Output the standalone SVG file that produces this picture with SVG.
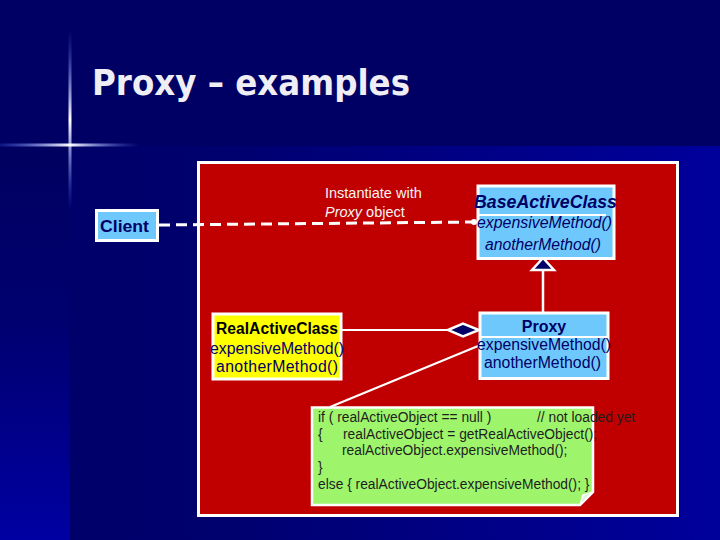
<svg xmlns="http://www.w3.org/2000/svg" width="720" height="540" viewBox="0 0 720 540">
<defs>
<linearGradient id="band" x1="0" y1="0" x2="1" y2="0">
<stop offset="0" stop-color="#000068"/>
<stop offset="0.3" stop-color="#00006e"/>
<stop offset="1" stop-color="#00009c"/>
</linearGradient>
<linearGradient id="leftcol" x1="0" y1="0" x2="0" y2="1">
<stop offset="0" stop-color="#000060"/>
<stop offset="0.45" stop-color="#000070"/>
<stop offset="1" stop-color="#0000a2"/>
</linearGradient>
<linearGradient id="vglint" x1="0" y1="0" x2="0" y2="1">
<stop offset="0" stop-color="#4a6cff" stop-opacity="0"/>
<stop offset="0.5" stop-color="#ffffff" stop-opacity="1"/>
<stop offset="1" stop-color="#4a6cff" stop-opacity="0"/>
</linearGradient>
<linearGradient id="hglint" x1="0" y1="0" x2="1" y2="0">
<stop offset="0" stop-color="#4a6cff" stop-opacity="0.2"/>
<stop offset="0.5" stop-color="#ffffff" stop-opacity="1"/>
<stop offset="1" stop-color="#4a6cff" stop-opacity="0"/>
</linearGradient>
<style>
.box{stroke:#ffffff;stroke-width:3}
.blue{fill:#6ec8fc}
.t{font-family:"Liberation Sans",Arial,sans-serif}
.navy{fill:#000066}
.m{font-size:15.8px}
.sep{stroke:#ffffff;stroke-width:2}
.code{font-family:"Liberation Sans",Arial,sans-serif;font-size:13.8px;fill:#1e1e1e}
.conn{stroke:#ffffff;fill:none}
</style>
</defs>
<rect x="0" y="0" width="720" height="540" fill="#000064"/>
<rect x="0" y="146" width="720" height="394" fill="url(#band)"/>
<rect x="0" y="146" width="70" height="394" fill="url(#leftcol)"/>
<rect x="68.5" y="30" width="3" height="180" fill="url(#vglint)"/>
<rect x="0" y="143.5" width="140" height="3" fill="url(#hglint)"/>
<text x="92" y="95" font-family="'DejaVu Sans Condensed','DejaVu Sans',sans-serif" font-weight="bold" font-size="36" fill="#eeeef4" textLength="318" lengthAdjust="spacingAndGlyphs">Proxy – examples</text>

<g id="panel">
<rect x="198.5" y="162.5" width="479" height="353" fill="#c00000" stroke="#ffffff" stroke-width="3"/>
</g>

<g id="connectors">
<path class="conn" d="M159,225 L473,222" stroke-width="3" stroke-dasharray="11,6"/>
<circle cx="474" cy="222" r="3" fill="#ffffff"/>
<path class="conn" d="M543,270 L543,312" stroke-width="2.5"/>
<path d="M543,258 L554,270 L532,270 Z" fill="#000066" stroke="#ffffff" stroke-width="2.5"/>
<path class="conn" d="M342,330 L448,330" stroke-width="2"/>
<path d="M448,330 L463,323.5 L479,330 L463,336.5 Z" fill="#000066" stroke="#ffffff" stroke-width="2.5"/>
<path class="conn" d="M478,346 L330,407" stroke-width="2"/>
</g>

<g id="label">
<text class="t" x="325" y="198" font-size="14.5" fill="#f4f4f4">Instantiate with</text>
<text class="t" x="325" y="217" font-size="14.5" fill="#f4f4f4"><tspan font-style="italic">Proxy</tspan> object</text>
</g>

<g id="client">
<rect class="box blue" x="96.5" y="210.5" width="61" height="30"/>
<text class="t navy" x="100" y="232" font-size="17" font-weight="bold" textLength="49" lengthAdjust="spacingAndGlyphs">Client</text>
</g>

<g id="base-active-class">
<rect class="box blue" x="478" y="186" width="136" height="72.5"/>
<line class="sep" x1="478" y1="215" x2="606" y2="215"/>
<text class="t navy" x="474" y="208" font-size="17.6" font-weight="bold" font-style="italic" textLength="143" lengthAdjust="spacingAndGlyphs">BaseActiveClass</text>
<text class="t navy m" x="477" y="228" font-style="italic" textLength="135" lengthAdjust="spacingAndGlyphs">expensiveMethod()</text>
<text class="t navy m" x="485" y="250" font-style="italic" textLength="116" lengthAdjust="spacingAndGlyphs">anotherMethod()</text>
</g>

<g id="proxy">
<rect class="box blue" x="480" y="313" width="128" height="65.5"/>
<line class="sep" x1="480" y1="337" x2="608" y2="337"/>
<text class="t navy" x="544" y="332" font-size="16" font-weight="bold" text-anchor="middle">Proxy</text>
<text class="t navy m" x="477" y="350" textLength="134" lengthAdjust="spacingAndGlyphs">expensiveMethod()</text>
<text class="t navy m" x="484" y="368" textLength="117" lengthAdjust="spacingAndGlyphs">anotherMethod()</text>
</g>

<g id="real-active-class">
<rect class="box" x="213" y="314" width="128" height="65" fill="#ffff00"/>
<text class="t" x="216" y="334" font-size="15.6" font-weight="bold" fill="#000000" textLength="122" lengthAdjust="spacing">RealActiveClass</text>
<text class="t navy m" x="210" y="354" textLength="134" lengthAdjust="spacing">expensiveMethod()</text>
<text class="t navy m" x="216" y="372" textLength="122" lengthAdjust="spacing">anotherMethod()</text>
</g>

<g id="note">
<path d="M312,407.5 L593,407.5 L593,492 L580,505 L312,505 Z" fill="#9ef56c" stroke="#ffffff" stroke-width="2.5"/>
<path d="M580,505 L583,495 L593,492 Z" fill="#e6f2dc" stroke="#ffffff" stroke-width="1.5"/>
<text class="code" x="318" y="422">if ( realActiveObject == null )</text>
<text class="code" x="537" y="422">// not loaded yet</text>
<text class="code" x="318" y="439">{</text>
<text class="code" x="343" y="439">realActiveObject = getRealActiveObject();</text>
<text class="code" x="342" y="455">realActiveObject.expensiveMethod();</text>
<text class="code" x="318" y="472">}</text>
<text class="code" x="318" y="489">else { realActiveObject.expensiveMethod(); }</text>
</g>
</svg>
